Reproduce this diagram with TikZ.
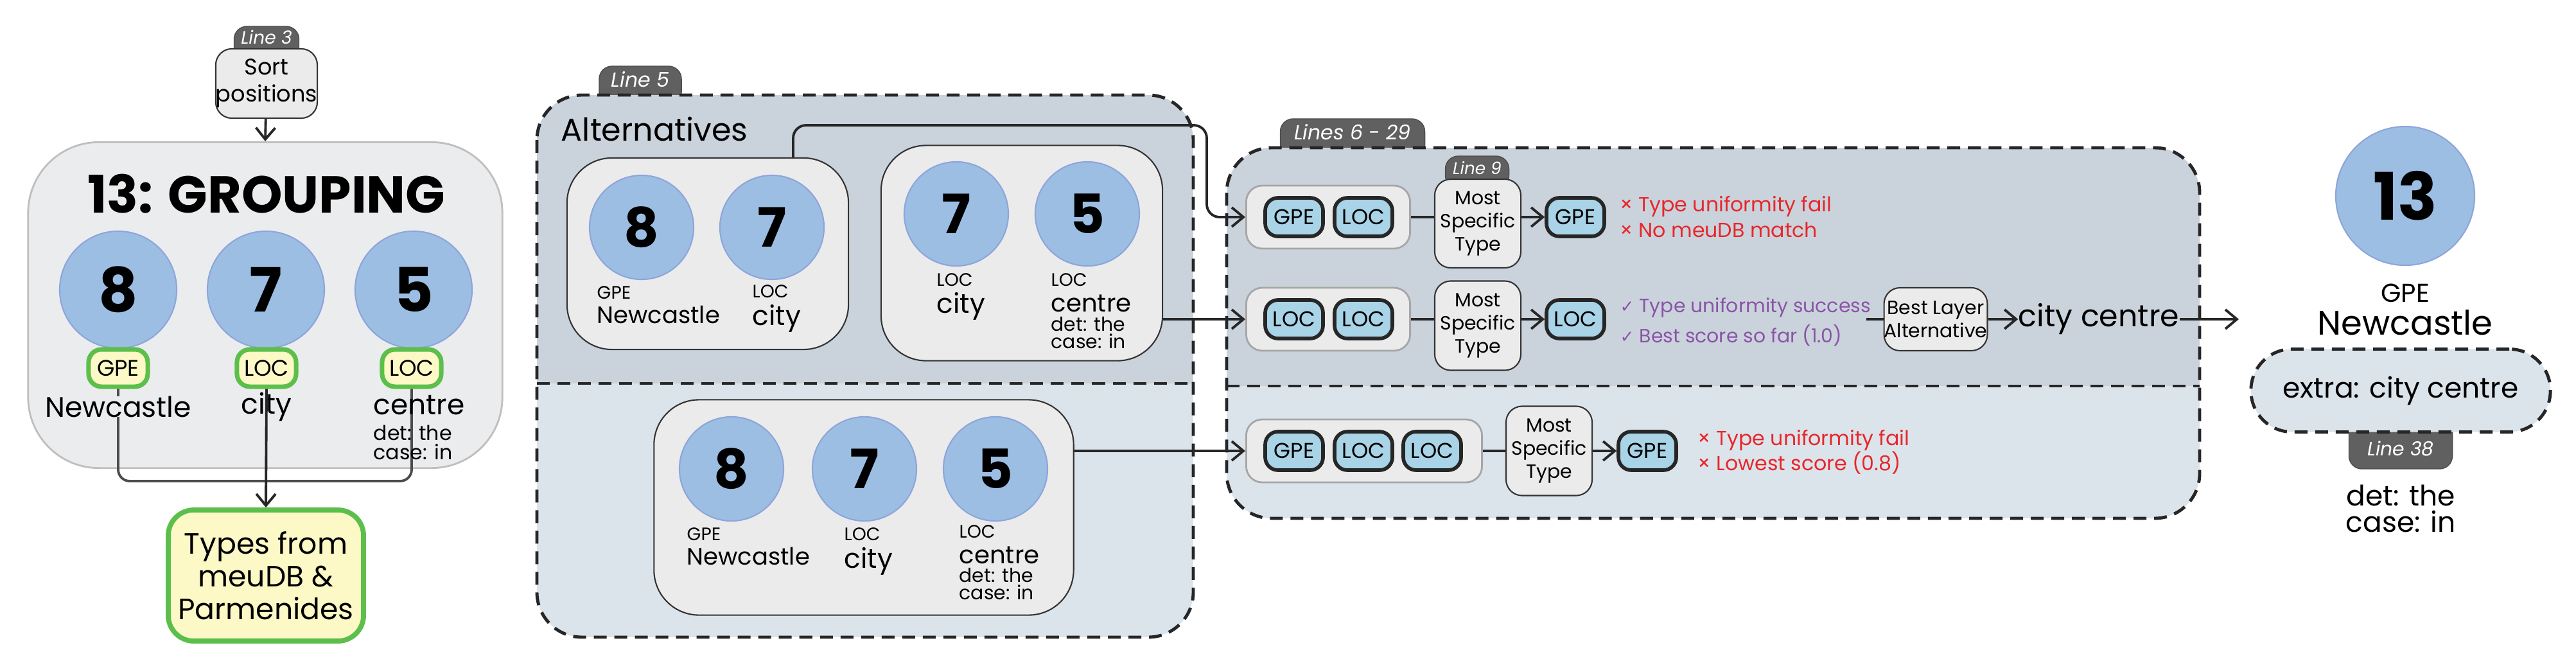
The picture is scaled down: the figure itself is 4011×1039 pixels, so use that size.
\documentclass[tikz,border=0pt]{standalone}
\usepackage{fontspec}
\setmainfont{Poppins}
\newfontfamily\djv{DejaVu Sans}
\usetikzlibrary{arrows.meta}
\newcommand\myfs[1]{\fontsize{#1}{\dimexpr #1pt*6/5\relax}\selectfont}
\definecolor{circ}{HTML}{9DBEE3}
\definecolor{circb}{HTML}{8EA5DA}
\definecolor{boxg}{HTML}{EBEBEB}
\definecolor{grp}{HTML}{EBECEE}
\definecolor{tagf}{HTML}{FCF9C6}
\definecolor{tagb}{HTML}{5DBF4B}
\definecolor{pill}{HTML}{A9D3E6}
\definecolor{tabc}{HTML}{606060}
\definecolor{dark}{HTML}{CAD3DC}
\definecolor{light}{HTML}{DCE4EB}
\definecolor{redc}{HTML}{E8262B}
\definecolor{purp}{HTML}{8A54A6}
\tikzset{
 circ/.style={circle,fill=circ,draw=circb,line width=0.6pt,inner sep=0pt,font=\myfs{#1}\bfseries},
 tag/.style={rectangle,rounded corners=0.2cm,fill=tagf,draw=tagb,line width=2pt,minimum width=0.92cm,minimum height=0.58cm,inner sep=0pt,font=\myfs{10}},
 gbox/.style={rectangle,rounded corners=0.7cm,fill=boxg,draw=black!80,line width=0.6pt,inner sep=0pt},
 pill/.style={rectangle,rounded corners=0.2cm,fill=pill,draw=black!85,line width=1.6pt,minimum width=0.9cm,minimum height=0.6cm,inner sep=0pt,font=\myfs{9.5}},
 cont/.style={rectangle,rounded corners=0.25cm,fill=boxg,draw=black!35,line width=0.8pt,inner sep=0pt,minimum height=0.98cm},
 mst/.style={rectangle,rounded corners=0.25cm,fill=boxg,draw=black!80,line width=0.6pt,inner sep=0pt,minimum width=1.34cm,align=center,font=\myfs{8.5}},
 tab/.style={rectangle,rounded corners=0.2cm,fill=tabc,draw=black!70,inner sep=0pt},
 tabt/.style={inner sep=0pt,text=white,font=\myfs{#1}\itshape},
 arr/.style={-{Straight Barb[length=0.18cm,width=0.3cm]},line width=1.1pt,draw=black!85},
 ln/.style={line width=1.1pt,draw=black!85},
 dsh/.style={dashed,dash pattern=on 0.2cm off 0.12cm,line width=1.4pt,draw=black!85},
 lbl/.style={inner sep=0pt,font=\myfs{#1}},
}
\begin{document}
\begin{tikzpicture}[x=0.01cm,y=-0.01cm]
\useasboundingbox (0,0) rectangle (4011,1039);
% ---------------- Left: grouping
\node[tab,minimum width=1.01cm,minimum height=0.5cm] (t3) at (415,66) {};
\node[tabt=8] (t3l) at (415,58) {Line 3};
\node[gbox,rounded corners=0.25cm,minimum width=1.37cm,minimum height=1.08cm,align=center,font=\myfs{10}] (sort) at (415,130) {Sort\\positions};
\node[rectangle,rounded corners=1.1cm,fill=grp,draw=black!25,line width=0.8pt,minimum width=7.38cm,minimum height=5.07cm] (grp) at (413,475) {};
\draw[arr] (sort) -- (grp.north);
\node[lbl=23,font=\myfs{23}\bfseries] (gt) at (415,302) {13: GROUPING};
\coordinate (j) at (415,749);
\draw[line width=1.1pt,draw=black!70,rounded corners=0.18cm] (184,573) -- (184,749) -- (j);
\draw[line width=1.1pt,draw=black!70,rounded corners=0.18cm] (641,573) -- (641,749) -- (j);
\node[circ=27,minimum size=1.82cm] (g8) at (184,451) {8};
\node[circ=27,minimum size=1.82cm] (g7) at (414,451) {7};
\node[circ=27,minimum size=1.82cm] (g5) at (644,451) {5};
\node[tag] (tg1) at (184,573) {GPE};
\node[tag] (tg2) at (415,573) {LOC};
\node[tag] (tg3) at (641,573) {LOC};
\node[lbl=12.5,fill=grp] (n1) at (184,633) {Newcastle};
\node[lbl=12.5,fill=grp] (n2) at (415,633) {city};
\node[lbl=12.5,anchor=west] (n3) at (581,631) {centre};
\node[lbl=9,anchor=west] (n4) at (581,674) {det: the};
\node[lbl=9,anchor=west] (n5) at (581,704) {case: in};
\node[rectangle,rounded corners=0.4cm,fill=tagf,draw=tagb,line width=2.2pt,minimum width=3.04cm,minimum height=2.04cm,align=center,font=\fontsize{13}{14.5}\selectfont] (types) at (414,896) {Types from\\meuDB \&\\Parmenides};
\draw[arr] (tg2.south) -- (types.north);
% ---------------- Alternatives
\node[tab,minimum width=1.28cm,minimum height=0.6cm] (t5) at (997,133) {};
\node[tabt=9] (t5l) at (997,124) {Line 5};
\begin{scope}
\clip[rounded corners=0.7cm] (836,148) rectangle (1858,992);
\fill[dark] (836,148) rectangle (1858,597);
\fill[light] (836,597) rectangle (1858,992);
\end{scope}
\draw[dsh,rounded corners=0.7cm] (836,148) rectangle (1858,992);
\draw[dsh] (836,597) -- (1858,597);
\node[lbl=14,anchor=west] (alt) at (873,201) {Alternatives};
% A1
\node[gbox,minimum width=4.38cm,minimum height=2.98cm] (a1) at (1102,395) {};
\node[circ=24,minimum size=1.62cm] (a18) at (999,354) {8};
\node[circ=24,minimum size=1.62cm] (a17) at (1202,354) {7};
\node[lbl=8,anchor=west] (a1a) at (929,456) {GPE};
\node[lbl=10.5,anchor=west] (a1b) at (929,490) {Newcastle};
\node[lbl=8,anchor=west] (a1c) at (1171,454) {LOC};
\node[lbl=12,anchor=west] (a1d) at (1171,496) {city};
% A2
\node[gbox,minimum width=4.38cm,minimum height=3.35cm] (a2) at (1591,394) {};
\node[circ=24,minimum size=1.62cm] (a27) at (1489,333) {7};
\node[circ=24,minimum size=1.62cm] (a25) at (1693,333) {5};
\node[lbl=8,anchor=west] (a2a) at (1458,436) {LOC};
\node[lbl=12,anchor=west] (a2b) at (1458,477) {city};
\node[lbl=8,anchor=west] (a2c) at (1636,436) {LOC};
\node[lbl=11,anchor=west] (a2d) at (1636,472) {centre};
\node[lbl=8.5,anchor=west] (a2e) at (1636,505) {det: the};
\node[lbl=8.5,anchor=west] (a2f) at (1636,531) {case: in};
% B
\node[gbox,minimum width=6.53cm,minimum height=3.35cm] (b) at (1345,790) {};
\node[circ=24,minimum size=1.62cm] (b8) at (1139,730) {8};
\node[circ=24,minimum size=1.62cm] (b7) at (1346,730) {7};
\node[circ=24,minimum size=1.62cm] (b5) at (1550,730) {5};
\node[lbl=8,anchor=west] (ba) at (1069,832) {GPE};
\node[lbl=10.5,anchor=west] (bb) at (1069,866) {Newcastle};
\node[lbl=8,anchor=west] (bc) at (1314,832) {LOC};
\node[lbl=12,anchor=west] (bd) at (1314,874) {city};
\node[lbl=8,anchor=west] (be) at (1493,828) {LOC};
\node[lbl=11,anchor=west] (bf) at (1493,864) {centre};
\node[lbl=8.5,anchor=west] (bg) at (1493,896) {det: the};
\node[lbl=8.5,anchor=west] (bh) at (1493,922) {case: in};
% ---------------- Lines 6-29 box
\node[tab,minimum width=2.25cm,minimum height=0.6cm] (t6) at (2106,215) {};
\node[tabt=9] (t6l) at (2106,206) {Lines 6 - 29};
\begin{scope}
\clip[rounded corners=0.7cm] (1910,230) rectangle (3425,807);
\fill[dark] (1910,230) rectangle (3425,601);
\fill[light] (1910,601) rectangle (3425,807);
\end{scope}
\draw[dsh,rounded corners=0.7cm] (1910,230) rectangle (3425,807);
\draw[dsh] (1910,601) -- (3425,601);
% row 1
\node[cont,minimum width=2.55cm] (r1) at (2068,338) {};
\node[pill] (r1p1) at (2015,338) {GPE};
\node[pill] (r1p2) at (2123,338) {LOC};
\node[tab,minimum width=0.99cm,minimum height=0.5cm] (t9) at (2300,268) {};
\node[tabt=7.5] (t9l) at (2300,262) {Line 9};
\node[mst,minimum height=1.38cm] (m1) at (2301,348) {Most\\Specific\\Type};
\node[pill] (o1) at (2453,338) {GPE};
\draw[ln] (r1) -- (m1.west |- r1);
\draw[arr] (m1.east |- o1) -- (o1);
\node[lbl=9,text=redc,anchor=west] (e1) at (2522,322) {× Type uniformity fail};
\node[lbl=9,text=redc,anchor=west] (e2) at (2522,358) {× No meuDB match};
% row 2
\node[cont,minimum width=2.55cm] (r2) at (2068,497) {};
\node[pill] (r2p1) at (2015,497) {LOC};
\node[pill] (r2p2) at (2123,497) {LOC};
\node[mst,minimum height=1.39cm] (m2) at (2301,507) {Most\\Specific\\Type};
\node[pill] (o2) at (2453,497) {LOC};
\draw[ln] (r2) -- (m2.west |- r2);
\draw[arr] (m2.east |- o2) -- (o2);
\node[lbl=8.5,text=purp,anchor=west] (s1) at (2522,479) {{\djv\myfs{7.5}✓} Type uniformity success};
\node[lbl=8.5,text=purp,anchor=west] (s2) at (2522,522) {{\djv\myfs{7.5}✓} Best score so far (1.0)};
\node[gbox,rounded corners=0.25cm,minimum width=1.57cm,minimum height=0.98cm,align=center,font=\myfs{8.5}] (bla) at (3014,497) {Best Layer\\Alternative};
\coordinate (s1e) at (2906,497);
\draw[ln] (s1e) -- (bla);
\node[lbl=13.5] (cc) at (3268,497) {city centre};
\draw[arr] (bla) -- (cc);
\coordinate (ce) at (3486,497);
\draw[arr] (cc) -- (ce);
% row 3
\node[cont,minimum width=3.67cm] (r3) at (2124,702) {};
\node[pill] (r3p1) at (2015,702) {GPE};
\node[pill] (r3p2) at (2123,702) {LOC};
\node[pill] (r3p3) at (2230,702) {LOC};
\node[mst,minimum height=1.39cm] (m3) at (2412,702) {Most\\Specific\\Type};
\node[pill] (o3) at (2565,702) {GPE};
\draw[ln] (r3) -- (m3);
\draw[arr] (m3) -- (o3);
\node[lbl=9,text=redc,anchor=west] (e3) at (2643,686) {× Type uniformity fail};
\node[lbl=9,text=redc,anchor=west] (e4) at (2643,721) {× Lowest score (0.8)};
% connectors from alternatives
\coordinate (c1) at (1235,195);
\coordinate (c2) at (1879,195);
\draw[arr,rounded corners=0.2cm] (a1.north -| c1) -- (c1) -- (c2) |- (r1);
\draw[arr] (a2.east |- r2) -- (r2);
\draw[arr] (b.east |- r3) -- (r3);
% ---------------- Result
\node[circ=29,minimum size=2.16cm] (r13) at (3745,305) {13};
\node[lbl=11.5] (rg) at (3745,456) {GPE};
\node[lbl=15] (rn) at (3745,502) {Newcastle};
\node[tab,minimum width=1.61cm,minimum height=0.8cm] (t38) at (3738,690) {};
\node[tabt=8.5] (t38l) at (3738,698) {Line 38};
\node[rectangle,rounded corners=0.64cm,fill=light,dsh,minimum width=4.66cm,minimum height=1.29cm,font=\myfs{12.5}] (ex) at (3738,608) {extra: city centre};
\node[lbl=12.5] (d1) at (3738,771) {det: the};
\node[lbl=12.5] (d2) at (3738,812) {case: in};
\end{tikzpicture}
\end{document}
